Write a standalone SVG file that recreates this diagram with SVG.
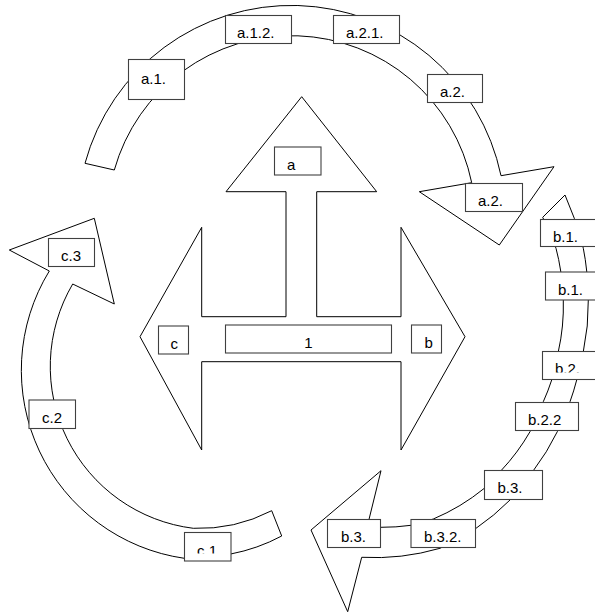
<svg xmlns="http://www.w3.org/2000/svg" width="595" height="613" viewBox="0 0 595 613">
<style>
.arw{fill:#fff;stroke:#000;stroke-width:1;stroke-linejoin:miter}
.box{fill:#fff;stroke:#404040;stroke-width:1.1}
.t{font-family:"Liberation Sans",Arial,sans-serif;font-size:15px;fill:#000}
</style>
<defs>
<clipPath id="clipB2"><rect x="540" y="350" width="60" height="22.5"/></clipPath>
<clipPath id="clipC1"><rect x="183" y="531" width="50" height="22.5"/></clipPath>
</defs>
<rect width="595" height="613" fill="#fff"/>
<g id="connectors">
<path id="arc-a" class="arw" d="M85,163.3 A214,214 0 0 1 501,175.7 L554,166.7 L499.3,245 L419.3,191.7 L471.7,182.7 A184,184 0 0 0 114.3,170 Z"/>
<path id="arc-b" class="arw" d="M542.7,217.3 L565,195 L574.3,218.3 A234,234 0 0 1 583.3,248.3 A234,234 0 0 1 586.7,271 A234,234 0 0 1 588.3,300 A234,234 0 0 1 583.3,351.7 A234,234 0 0 1 576.7,380 A234,234 0 0 1 570,401.7 A234,234 0 0 1 557.3,431.7 A234,234 0 0 1 533.3,470.7 A234,234 0 0 1 510,500 A234,234 0 0 1 476,528.3 A234,234 0 0 1 440,548.3 A234,234 0 0 1 361.7,557.3 L347.7,611.7 L311,530 L381,470.7 L367,527.5 A207,207 0 0 0 380.7,527.3 A207,207 0 0 0 411,525.3 A207,207 0 0 0 433.3,519 A207,207 0 0 0 484.3,488.3 A207,207 0 0 0 501,470.7 A207,207 0 0 0 530,431.7 A207,207 0 0 0 543.3,401.7 A207,207 0 0 0 551.7,380 A207,207 0 0 0 558.3,351.7 A207,207 0 0 0 563.3,300 A207,207 0 0 0 560.7,271 A207,207 0 0 0 556,248.3 A207,207 0 0 0 542.7,217.3 Z"/>
<path id="arc-c" class="arw" d="M281.7,536 A180,180 0 0 1 230.7,554 A186,186 0 0 1 184.3,558.3 A190,190 0 0 1 49.3,271 L9.3,250 L94.3,218.3 L114.3,304 L72.7,284 A163,163 0 0 0 193.3,528.3 A158,158 0 0 0 271.7,510.7 Z"/>
</g>
<g id="center">
<path class="arw" d="M301.7,96.7 L376.7,191.7 L316.7,191.7 L316.7,316.7 L401,316.7 L401,227.3 L465,336.7 L401,450 L401,361.7 L201.7,361.7 L201.7,450 L140,336.7 L201.7,227.3 L201.7,316.7 L286,316.7 L286,191.7 L226,191.7 Z"/>
</g>
<g id="n-a"><rect class="box" x="274.5" y="147" width="46.5" height="28"/><text class="t" x="287" y="169.5">a</text></g>
<g id="n-1"><rect class="box" x="225.5" y="325" width="166" height="28"/><text class="t" x="308.5" y="347.5" text-anchor="middle">1</text></g>
<g id="n-c"><rect class="box" x="158.5" y="326" width="30" height="28"/><text class="t" x="170.5" y="348.5">c</text></g>
<g id="n-b"><rect class="box" x="411.5" y="325" width="30" height="28"/><text class="t" x="424.5" y="347.5">b</text></g>
<g id="n-a1"><rect class="box" x="128.5" y="59.5" width="56" height="40"/><text class="t" x="141" y="84">a.1.</text></g>
<g id="n-a12"><rect class="box" x="225.5" y="15.5" width="66" height="28"/><text class="t" x="237" y="38">a.1.2.</text></g>
<g id="n-a21"><rect class="box" x="333.5" y="15.5" width="66" height="28"/><text class="t" x="346" y="38">a.2.1.</text></g>
<g id="n-a2a"><rect class="box" x="427.5" y="74.5" width="55" height="28"/><text class="t" x="440" y="97">a.2.</text></g>
<g id="n-a2b"><rect class="box" x="465.5" y="183.5" width="57" height="28"/><text class="t" x="478" y="206">a.2.</text></g>
<g id="n-b1a"><rect class="box" x="540.5" y="219.5" width="60" height="27"/><text class="t" x="553" y="241.5">b.1.</text></g>
<g id="n-b1b"><rect class="box" x="545.5" y="272" width="60" height="28"/><text class="t" x="558" y="294.5">b.1.</text></g>
<g id="n-b2"><rect class="box" x="542.5" y="351.5" width="60" height="28"/><text class="t" x="555" y="374" clip-path="url(#clipB2)">b.2.</text></g>
<g id="n-b22"><rect class="box" x="515.5" y="402.5" width="63" height="28"/><text class="t" x="528" y="425">b.2.2</text></g>
<g id="n-b3a"><rect class="box" x="484.5" y="470.5" width="58" height="29"/><text class="t" x="497.5" y="493">b.3.</text></g>
<g id="n-b32"><rect class="box" x="411" y="519.5" width="64.5" height="28"/><text class="t" x="424" y="542">b.3.2.</text></g>
<g id="n-b3b"><rect class="box" x="327.5" y="519.5" width="53" height="28"/><text class="t" x="341" y="542">b.3.</text></g>
<g id="n-c1"><rect class="box" x="184.5" y="532.5" width="46.5" height="28.5"/><text class="t" x="197" y="555.5" clip-path="url(#clipC1)">c.1</text></g>
<g id="n-c2"><rect class="box" x="29" y="400" width="46.5" height="28.5"/><text class="t" x="42" y="422.5">c.2</text></g>
<g id="n-c3"><rect class="box" x="48.5" y="238.5" width="46" height="28"/><text class="t" x="61" y="260.5">c.3</text></g>
</svg>
